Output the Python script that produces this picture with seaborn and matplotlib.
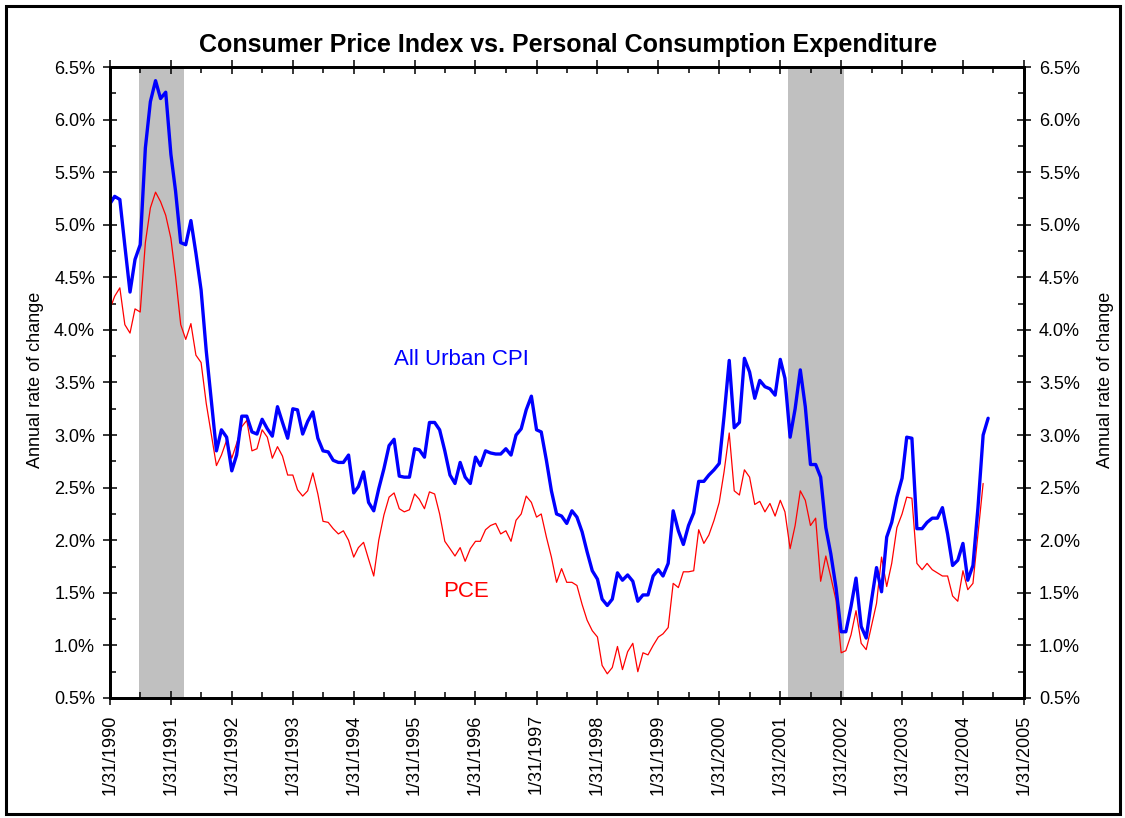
import pandas as pd
import matplotlib
matplotlib.use("Agg")
import matplotlib.pyplot as plt
from matplotlib.ticker import FuncFormatter, MultipleLocator
from matplotlib.patches import Rectangle
import seaborn as sns

# monthly annual rate of change, starting 1/31/1990
first_month = "1990-01-31"

cpi_values = [
    5.20, 5.27, 5.24, 4.80, 4.36, 4.67, 4.81, 5.73, 6.17, 6.37, 6.20, 6.26,
    5.67, 5.32, 4.83, 4.81, 5.04, 4.73, 4.38, 3.80, 3.33, 2.85, 3.05, 2.98,
    2.66, 2.81, 3.18, 3.18, 3.03, 3.01, 3.15, 3.06, 2.99, 3.27, 3.12, 2.97,
    3.25, 3.24, 3.01, 3.13, 3.22, 2.97, 2.85, 2.84, 2.76, 2.74, 2.74, 2.81,
    2.45, 2.51, 2.65, 2.36, 2.28, 2.49, 2.68, 2.90, 2.96, 2.61, 2.60, 2.60,
    2.87, 2.86, 2.79, 3.12, 3.12, 3.05, 2.85, 2.62, 2.54, 2.74, 2.60, 2.54,
    2.79, 2.71, 2.85, 2.83, 2.82, 2.82, 2.87, 2.81, 3.00, 3.06, 3.24, 3.37,
    3.05, 3.03, 2.76, 2.47, 2.25, 2.23, 2.16, 2.28, 2.22, 2.08, 1.89, 1.71,
    1.63, 1.44, 1.38, 1.44, 1.69, 1.62, 1.67, 1.61, 1.42, 1.48, 1.48, 1.66,
    1.72, 1.66, 1.78, 2.28, 2.09, 1.96, 2.14, 2.26, 2.56, 2.56, 2.62, 2.67,
    2.73, 3.18, 3.71, 3.07, 3.12, 3.73, 3.60, 3.35, 3.52, 3.46, 3.44, 3.38,
    3.72, 3.54, 2.98, 3.25, 3.62, 3.27, 2.72, 2.72, 2.60, 2.12, 1.87, 1.55,
    1.13, 1.13, 1.37, 1.64, 1.18, 1.07, 1.42, 1.74, 1.51, 2.03, 2.17, 2.41,
    2.59, 2.98, 2.97, 2.11, 2.11, 2.17, 2.21, 2.21, 2.31, 2.06, 1.76, 1.81,
    1.97, 1.62, 1.76, 2.31, 3.00, 3.16,
]

pce_values = [
    4.20, 4.32, 4.40, 4.05, 3.97, 4.20, 4.17, 4.83, 5.16, 5.31, 5.22, 5.09,
    4.87, 4.51, 4.05, 3.91, 4.06, 3.76, 3.69, 3.30, 3.01, 2.71, 2.81, 2.95,
    2.78, 2.92, 3.08, 3.14, 2.85, 2.87, 3.05, 2.98, 2.78, 2.89, 2.80, 2.62,
    2.62, 2.48, 2.42, 2.47, 2.64, 2.44, 2.18, 2.17, 2.11, 2.06, 2.09, 2.00,
    1.84, 1.93, 1.98, 1.82, 1.66, 2.00, 2.24, 2.41, 2.45, 2.30, 2.27, 2.29,
    2.44, 2.39, 2.30, 2.46, 2.44, 2.25, 1.99, 1.92, 1.85, 1.93, 1.80, 1.92,
    1.99, 1.99, 2.10, 2.14, 2.16, 2.06, 2.09, 1.99, 2.19, 2.25, 2.42, 2.36,
    2.22, 2.25, 2.03, 1.84, 1.60, 1.73, 1.60, 1.60, 1.57, 1.39, 1.24, 1.14,
    1.08, 0.81, 0.73, 0.79, 0.99, 0.77, 0.94, 1.02, 0.75, 0.93, 0.91, 1.00,
    1.08, 1.11, 1.17, 1.59, 1.55, 1.70, 1.70, 1.71, 2.10, 1.97, 2.05, 2.19,
    2.36, 2.65, 3.02, 2.47, 2.43, 2.67, 2.60, 2.34, 2.37, 2.27, 2.35, 2.23,
    2.38, 2.27, 1.92, 2.14, 2.47, 2.38, 2.14, 2.21, 1.61, 1.85, 1.65, 1.43,
    0.93, 0.95, 1.10, 1.33, 1.02, 0.96, 1.18, 1.40, 1.84, 1.56, 1.78, 2.12,
    2.25, 2.41, 2.40, 1.78, 1.72, 1.78, 1.72, 1.69, 1.66, 1.66, 1.47, 1.42,
    1.71, 1.53, 1.59, 2.06, 2.54,
]

# recession periods (shaded)
recession_start = ["1990-07-23", "2001-03-18"]
recession_end = ["1991-04-19", "2002-02-14"]

tick_years = list(range(1990, 2006))

cpi_dates = pd.date_range(first_month, periods=len(cpi_values), freq="ME")
pce_dates = pd.date_range(first_month, periods=len(pce_values), freq="ME")

sns.set_style("white")
plt.rcParams["font.family"] = ["Liberation Sans", "DejaVu Sans"]
plt.rcParams["text.color"] = "black"
plt.rcParams["xtick.color"] = "black"
plt.rcParams["ytick.color"] = "black"
plt.rcParams["xtick.labelcolor"] = "black"
plt.rcParams["ytick.labelcolor"] = "black"

W, H = 1125, 818
fig = plt.figure(figsize=(W / 100, H / 100), dpi=100)
left, right, top, bottom = 110, 1024, 67, 698
ax = fig.add_axes([left / W, 1 - bottom / H, (right - left) / W, (bottom - top) / H])

for s, e in zip(recession_start, recession_end):
    ax.axvspan(pd.Timestamp(s), pd.Timestamp(e), color="#c0c0c0", lw=0, zorder=0)

sns.lineplot(x=cpi_dates, y=cpi_values, color="#0000ff", linewidth=2.4, ax=ax, zorder=3)
sns.lineplot(x=pce_dates, y=pce_values, color="#ff0000", linewidth=0.9, ax=ax, zorder=2)

ax.set_xlim(pd.Timestamp("1990-01-31"), pd.Timestamp("2005-01-31"))
ax.set_ylim(0.5, 6.5)

major_x = [pd.Timestamp(f"{y}-01-31") for y in tick_years]
minor_x = [a + (b - a) / 2 for a, b in zip(major_x[:-1], major_x[1:])]
ax.set_xticks(major_x)
ax.set_xticks(minor_x, minor=True)
ax.set_xticklabels([f"{d.month}/{d.day}/{d.year}" for d in major_x], rotation=90)

pct = FuncFormatter(lambda v, p: f"{v:.1f}%")
ax.yaxis.set_major_locator(MultipleLocator(0.5))
ax.yaxis.set_minor_locator(MultipleLocator(0.25))
ax.yaxis.set_major_formatter(pct)

ax2 = ax.twinx()
ax2.set_ylim(ax.get_ylim())
ax2.yaxis.set_major_locator(MultipleLocator(0.5))
ax2.yaxis.set_minor_locator(MultipleLocator(0.25))
ax2.yaxis.set_major_formatter(pct)

for a in (ax, ax2):
    a.tick_params(which="major", direction="inout", length=9.5, width=1.1,
                  labelsize=13, pad=6, color="black", labelcolor="black")
    a.tick_params(which="minor", direction="in", length=4.5, width=1.1, color="black")
    for sp in a.spines.values():
        sp.set_linewidth(2)
        sp.set_color("black")
ax.tick_params(which="both", top=True, left=True, bottom=True)
ax.tick_params(axis="x", which="major", pad=7)
ax2.tick_params(which="both", right=True, left=False)
ax.set_xlabel("")
ax.set_ylabel("")

ax.text(0.385, 0.536, "All Urban CPI", color="#0000ff", fontsize=16,
        ha="center", va="center", transform=ax.transAxes)
ax.text(0.3895, 0.168, "PCE", color="#ff0000", fontsize=16,
        ha="center", va="center", transform=ax.transAxes)

fig.text(0.505, 1 - 45 / H, "Consumer Price Index vs. Personal Consumption Expenditure",
         fontsize=18, fontweight="bold", ha="center", va="center", color="black")
fig.text(36 / W, 1 - 380 / H, "Annual rate of change", fontsize=13,
         rotation=90, ha="center", va="center", color="black")
fig.text(1106 / W, 1 - 380 / H, "Annual rate of change", fontsize=13,
         rotation=90, ha="center", va="center", color="black")

fig.patches.append(Rectangle((6 / W, 1 - 814 / H), 1114 / W, 808 / H,
                             transform=fig.transFigure, fill=False,
                             edgecolor="black", linewidth=2.2))

fig.savefig("out.png", dpi=100)
